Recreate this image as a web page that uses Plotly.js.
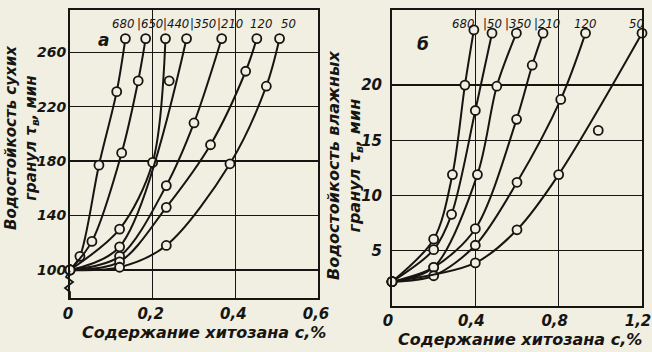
<!DOCTYPE html>
<html>
<head>
<meta charset="utf-8">
<script src="https://cdn.plot.ly/plotly-3.0.1.min.js"></script>
<style>html,body{margin:0;padding:0;background:#f1eee2;}</style>
</head>
<body>
<div id="chart" style="width:652px;height:352px;"></div>
<script>
// ---- Panel а: dry granules (water resistance, min) vs chitosan content, % ----
const curveLabelsA = ["680", "|650", "|440", "|350", "|210", "120", "50"];
const a680x = [0, 0.024, 0.070, 0.113, 0.134];
const a680y = [100, 110, 177, 231, 270];
const a650x = [0, 0.053, 0.125, 0.165, 0.183];
const a650y = [100, 121, 186, 239, 270];
const a440x = [0, 0.12, 0.20, 0.231];
const a440y = [100, 130, 179, 270];
const a350x = [0, 0.12, 0.282];
const a350y = [100, 117, 270];
const a210x = [0, 0.12, 0.233, 0.30, 0.367];
const a210y = [100, 110, 162, 208, 270];
const a120x = [0, 0.12, 0.233, 0.34, 0.425, 0.452];
const a120y = [100, 106, 146, 192, 246, 270];
const a50x  = [0, 0.12, 0.233, 0.387, 0.475, 0.507];
const a50y  = [100, 102, 118, 178, 235, 270];
const aOutX = [0.24];
const aOutY = [239];
const aTickVals = [0, 0.2, 0.4, 0.6];
const aTickText = ["0", "0,2", "0,4", "0,6"];
const aYTicks = [100, 140, 180, 220, 260];

// ---- Panel б: wet granules ----
const curveLabelsB = ["680", "|50", "|350", "|210", "120", "50"];
const b680x = [0, 0.20, 0.29, 0.35, 0.393];
const b680y = [2.2, 6.05, 11.9, 20.0, 25.0];
const b650x = [0, 0.20, 0.286, 0.40, 0.48];
const b650y = [2.2, 5.1, 8.3, 17.7, 24.7];
const b350x = [0, 0.20, 0.41, 0.503, 0.597];
const b350y = [2.2, 3.5, 11.9, 19.9, 24.7];
const b210x = [0, 0.20, 0.40, 0.598, 0.673, 0.725];
const b210y = [2.2, 3.5, 7.0, 16.9, 21.8, 24.7];
const b120x = [0, 0.20, 0.40, 0.60, 0.81, 0.929];
const b120y = [2.2, 2.74, 5.5, 11.2, 18.7, 24.7];
const b50x  = [0, 0.40, 0.60, 0.80, 1.2];
const b50y  = [2.2, 3.9, 6.9, 11.9, 24.7];
const bOutX = [0.99];
const bOutY = [15.9];
const bTickVals = [0, 0.4, 0.8, 1.2];
const bTickText = ["0", "0,4", "0,8", "1,2"];
const bYTicks = [5, 10, 15, 20];

const W = 652, H = 352;
const BG = '#f1eee2', INK = '#161512';
const px = x => x / W;
const py = y => 1 - y / H;
const FONT = 'DejaVu Sans';
const tf = (s) => ({family: FONT, size: s, color: INK, style: 'italic', weight: 'bold'});

function curve(x, y, xa, ya) {
  return {x: x, y: y, xaxis: xa, yaxis: ya, type: 'scatter', mode: 'lines+markers',
    line: {color: INK, width: 2, shape: 'spline', smoothing: 0.9},
    marker: {symbol: 'circle', size: 9, color: BG, line: {color: INK, width: 1.8}},
    hoverinfo: 'skip', cliponaxis: false};
}
function pts(x, y, xa, ya) {
  return {x: x, y: y, xaxis: xa, yaxis: ya, type: 'scatter', mode: 'markers',
    marker: {symbol: 'circle', size: 9, color: BG, line: {color: INK, width: 1.8}},
    hoverinfo: 'skip'};
}

const setsA = [[a680x, a680y], [a650x, a650y], [a440x, a440y], [a350x, a350y], [a210x, a210y], [a120x, a120y], [a50x, a50y]];
const setsB = [[b680x, b680y], [b650x, b650y], [b350x, b350y], [b210x, b210y], [b120x, b120y], [b50x, b50y]];

const data = [];
setsA.forEach(s => data.push(curve(s[0], s[1], 'x', 'y')));
data.push(pts(aOutX, aOutY, 'x', 'y'));
setsB.forEach(s => data.push(curve(s[0], s[1], 'x2', 'y2')));
data.push(pts(bOutX, bOutY, 'x2', 'y2'));

// label placement (page pixels) for the curve-name row above each panel
const labelPosA = [123, 150, 176, 203, 230, 261, 288];
const labelPosB = [463, 492, 518, 547, 585, 636];

const annotations = [];
const lblFont = {family: 'DejaVu Sans Condensed, DejaVu Sans', size: 13, color: INK, style: 'italic'};
curveLabelsA.forEach((t, i) => annotations.push({xref: 'paper', yref: 'paper', x: px(labelPosA[i]), y: py(24),
  xanchor: 'center', yanchor: 'middle', text: t, showarrow: false, font: lblFont}));
curveLabelsB.forEach((t, i) => annotations.push({xref: 'paper', yref: 'paper', x: px(labelPosB[i]), y: py(24),
  xanchor: 'center', yanchor: 'middle', text: t, showarrow: false, font: lblFont}));

function note(x, y, text, font, angle) {
  const a = {xref: 'paper', yref: 'paper', x: px(x), y: py(y), xanchor: 'center', yanchor: 'middle',
    text: text, showarrow: false, font: font};
  if (angle) a.textangle = angle;
  annotations.push(a);
}
note(103, 40, 'а', tf(17));
note(423, 44, 'б', tf(17));
note(21, 138, 'Водостойкость сухих<br>гранул τ<sub>в</sub>, мин', tf(15), -90);
note(345, 166, 'Водостойкость влажных<br>гранул τ<sub>в</sub>, мин', tf(16), -90);
note(204, 332, 'Содержание хитозана с,%', tf(16));
note(520, 339, 'Содержание хитозана с,%', tf(16));

// axis break zigzag on left panel
const zz = [[70, 271], [66, 277], [73, 282], [65, 288], [70, 292], [70, 298]];
const zzPath = 'M ' + zz.map(p => px(p[0]) + ',' + py(p[1])).join(' L ');

const axCommon = {showline: true, mirror: true, linecolor: INK, linewidth: 2,
  showgrid: true, gridcolor: INK, gridwidth: 1.3, zeroline: false, ticks: '',
  tickfont: tf(15), fixedrange: true, ticklabeloverflow: 'allow'};

const layout = {
  width: W, height: H, margin: {l: 0, r: 0, t: 0, b: 0},
  paper_bgcolor: BG, plot_bgcolor: BG, showlegend: false,
  xaxis: Object.assign({}, axCommon, {domain: [px(70), px(318)], range: [0, 0.6], anchor: 'y',
    tickvals: aTickVals, ticktext: aTickText, ticklabelstandoff: 1, ticklabelshift: -2}),
  yaxis: Object.assign({}, axCommon, {domain: [py(298), py(10)], range: [79.4, 291], anchor: 'x',
    tickvals: aYTicks, ticktext: aYTicks.map(String), ticklabelstandoff: -1, tickfont: tf(14)}),
  xaxis2: Object.assign({}, axCommon, {domain: [px(392), px(642)], range: [0, 1.2], anchor: 'y2',
    tickvals: bTickVals, ticktext: bTickText, ticklabelstandoff: 0, ticklabelshift: -4}),
  yaxis2: Object.assign({}, axCommon, {domain: [py(306), py(10)], range: [0, 26.8], anchor: 'x2',
    tickvals: bYTicks, ticktext: bYTicks.map(String), ticklabelstandoff: 5}),
  annotations: annotations,
  shapes: [{type: 'path', xref: 'paper', yref: 'paper', path: zzPath, line: {color: INK, width: 1.8}}]
};

Plotly.newPlot('chart', data, layout, {staticPlot: true, displayModeBar: false});
</script>
</body>
</html>
